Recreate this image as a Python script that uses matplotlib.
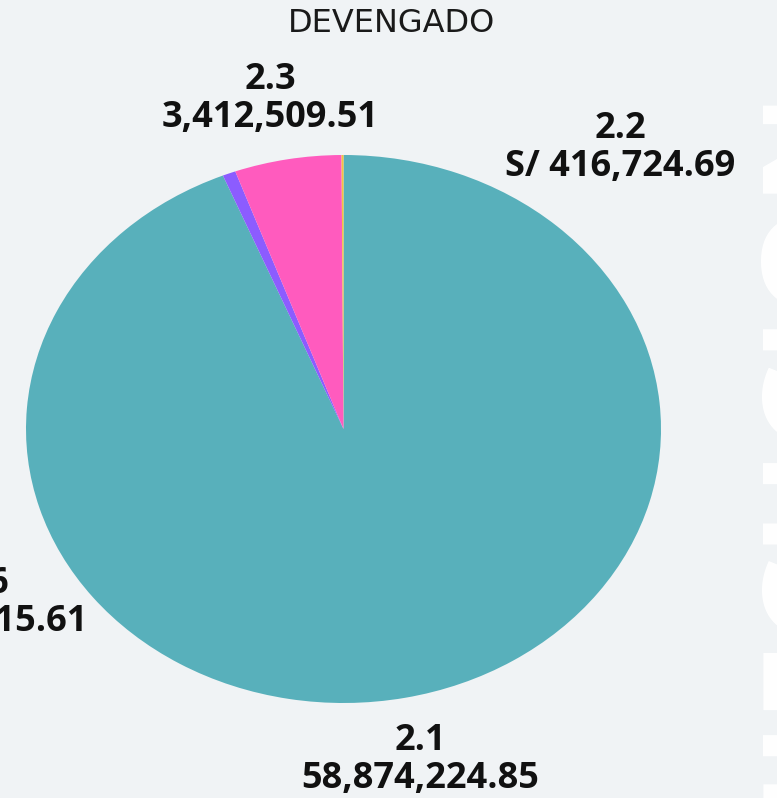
import matplotlib.pyplot as plt

# datos del gráfico (orden horario desde arriba)
partidas = ['2.1', '2.2', '2.3', '2.6']
montos = [58874224.85, 416724.69, 3412509.51, 62815.61]
etiquetas = ['58,874,224.85', 'S/ 416,724.69', '3,412,509.51', 'S/ 62,815.61']
colores = ['#58b0bb', '#8c5cff', '#ff5bbe', '#f5c242']

W, H = 777, 798
fondo = '#f0f3f5'

fig = plt.figure(figsize=(W / 100, H / 100), dpi=100, facecolor=fondo)

# marca de agua recortada en el borde derecho
fig.text(746 / W, 1 - 460 / H, 'EJECUCION', rotation=90, color='white',
         fontsize=100, fontweight='bold', family='Open Sans',
         ha='left', va='center')

# el pastel es una elipse: ejes con aspecto libre
x0, x1, y0, y1 = 26, 661, 155, 703
ax = fig.add_axes([x0 / W, 1 - y1 / H, (x1 - x0) / W, (y1 - y0) / H])
ax.pie(montos, colors=colores, startangle=90, counterclock=False,
       wedgeprops=dict(linewidth=0))
ax.set_aspect('auto')
ax.set_xlim(-1, 1)
ax.set_ylim(-1, 1)
ax.axis('off')

fig.text(392 / W, 1 - 24 / H, 'DEVENGADO', ha='center', va='center',
         fontsize=23, family='DejaVu Sans', fontweight='normal', color='#1a1a1a')

# posiciones de las etiquetas (px)
pos = {'2.1': (420, 760), '2.2': (620, 148), '2.3': (270, 99), '2.6': (-17, 603)}
for p, e in zip(partidas, etiquetas):
    x, y = pos[p]
    fig.text(x / W, 1 - y / H, p + '\n' + e, ha='center', va='center',
             fontsize=26, family='Open Sans', fontweight='bold',
             color='#111111', linespacing=1.05)

fig.savefig('out.png', dpi=100, facecolor=fondo)
